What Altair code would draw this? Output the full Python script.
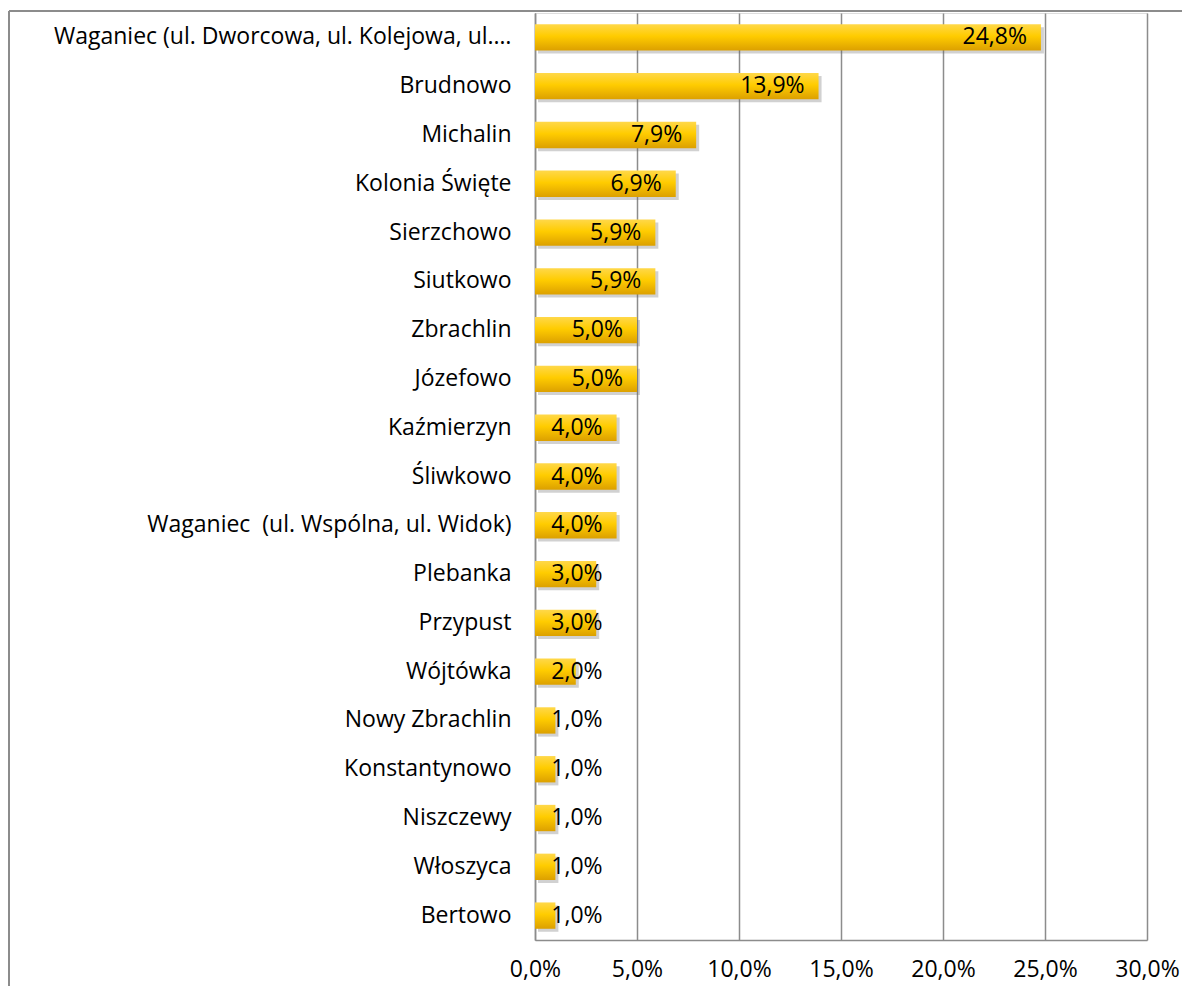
import altair as alt
import pandas as pd

categories = [
    "Waganiec (ul. Dworcowa, ul. Kolejowa, ul.…",
    "Brudnowo",
    "Michalin",
    "Kolonia Święte",
    "Sierzchowo",
    "Siutkowo",
    "Zbrachlin",
    "Józefowo",
    "Kaźmierzyn",
    "Śliwkowo",
    "Waganiec \u00a0(ul. Wspólna, ul. Widok)",
    "Plebanka",
    "Przypust",
    "Wójtówka",
    "Nowy Zbrachlin",
    "Konstantynowo",
    "Niszczewy",
    "Włoszyca",
    "Bertowo",
]
values = [24.8, 13.9, 7.9, 6.9, 5.9, 5.9, 5.0, 5.0, 4.0, 4.0, 4.0,
          3.0, 3.0, 2.0, 1.0, 1.0, 1.0, 1.0, 1.0]
x_ticks = [0, 5, 10, 15, 20, 25, 30]

df = pd.DataFrame({"cat": categories, "value": values})

FONT = "Open Sans"
FS = 23
GRID = "#8c8c8c"

y_enc = alt.Y("cat:N", sort=categories, title=None,
              scale=alt.Scale(paddingInner=0.46, paddingOuter=0.23),
              axis=alt.Axis(labelFontSize=FS, labelFont=FONT, labelColor="#000",
                            labelPadding=24, labelLimit=600, ticks=False,
                            domainColor=GRID, domainWidth=1.5))
x_enc = alt.X("value:Q", title=None,
              scale=alt.Scale(domain=[0, 30], nice=False),
              axis=alt.Axis(values=x_ticks, labelFontSize=FS, labelFont=FONT,
                            labelColor="#000", labelPadding=18, ticks=False,
                            labelFlush=False, labelOverlap=False,
                            grid=True, gridColor=GRID, gridWidth=1.5,
                            domainColor=GRID, domainWidth=1.5,
                            labelExpr="replace(format(datum.value, '.1f'), '.', ',') + '%'"))

base = alt.Chart(df)

shadow = base.mark_bar(color="#666", opacity=0.3).encode(
    y=y_enc, x=x_enc, yOffset=alt.value(3), xOffset=alt.value(3)
)

bars = base.mark_bar(
    color=alt.Gradient(
        gradient="linear",
        stops=[alt.GradientStop(color="#FFD84A", offset=0),
               alt.GradientStop(color="#FFCC00", offset=0.45),
               alt.GradientStop(color="#DCA000", offset=1)],
        x1=0, x2=0, y1=0, y2=1,
    )
).encode(y=y_enc, x=x_enc)

labels = base.transform_calculate(
    lx="max(datum.value, 4.0)",
    lab="replace(format(datum.value, '.1f'), '.', ',') + '%'"
).mark_text(align="right", baseline="middle", dx=-14, fontSize=FS,
            font=FONT, color="#000").encode(
    y=alt.Y("cat:N", sort=categories),
    x=alt.X("lx:Q"),
    text="lab:N",
)

frame_data = alt.Data(values=[{"a": 1}])
frame_left = alt.Chart(frame_data).mark_rule(color=GRID, strokeWidth=2).encode(
    x=alt.value(-526), y=alt.value(-2), y2=alt.value(975)
)
frame_top = alt.Chart(frame_data).mark_rule(color=GRID, strokeWidth=2).encode(
    x=alt.value(-526), x2=alt.value(650), y=alt.value(-2)
)

chart = alt.layer(frame_left, frame_top, shadow, bars, labels).properties(
    width=612, height=927,
    autosize=alt.AutoSizeParams(type="none"),
    padding={"left": 527, "top": 5, "right": 35, "bottom": 46},
).configure_view(strokeWidth=0).configure(background="white")

chart.save("out.html", embed_options={"renderer": "svg", "actions": False})
